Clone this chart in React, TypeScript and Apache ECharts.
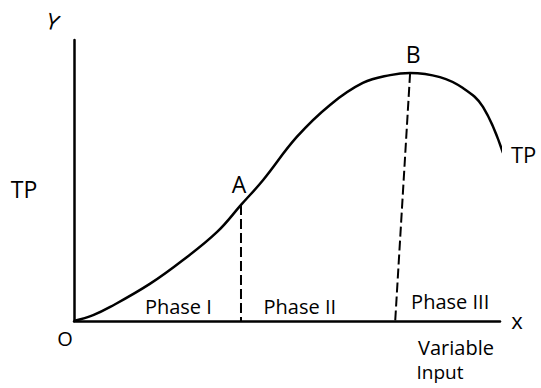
import React, { useEffect, useRef } from "react";
import * as echarts from "echarts";

// Variable input (x) and total product (y), scale 0–100
const inputX = [0, 4.5, 8.5, 17.8, 25.6, 33.6, 39.2, 44.4, 52.3, 60.1, 67.8, 74.2, 78.9, 85.9, 91.3, 96.0, 100.7];
const tpY = [0, 2.1, 5.0, 13.2, 21.7, 31.7, 41.3, 50.2, 65.5, 76.9, 84.7, 87.5, 88.3, 86.8, 82.9, 76.2, 59.8];

// Boundary points between phases
const pointA = [39.2, 41.3];
const pointB = [78.9, 88.3];
const pointBFoot = [75.4, 0];

const phaseLabels = ["Phase I", "Phase II", "Phase III"];
const phaseCenters = [24.5, 53.0, 88.3];

export default function App() {
  const ref = useRef<HTMLDivElement>(null);
  useEffect(() => {
    if (!ref.current) return;
    const chart = echarts.init(ref.current, null, { renderer: "svg" });
    const font = "'Open Sans', 'Liberation Sans', sans-serif";
    const gridLeft = 74, gridTop = 40, gridW = 426, gridH = 281;
    const px = (x: number) => gridLeft + (x / 100) * gridW;
    const py = (y: number) => gridTop + gridH - (y / 100) * gridH;
    chart.setOption({
      animation: false,
      backgroundColor: "#ffffff",
      grid: { left: gridLeft, top: gridTop, width: gridW, height: gridH },
      xAxis: {
        type: "value", min: 0, max: 100,
        axisLine: { show: true, lineStyle: { color: "#000", width: 2.5 } },
        axisTick: { show: false }, axisLabel: { show: false }, splitLine: { show: false },
      },
      yAxis: {
        type: "value", min: 0, max: 100,
        axisLine: { show: true, lineStyle: { color: "#000", width: 2.5 } },
        axisTick: { show: false }, axisLabel: { show: false }, splitLine: { show: false },
      },
      series: [
        {
          type: "line",
          data: inputX.map((x, i) => [x, tpY[i]]),
          smooth: 0.4,
          symbol: "none",
          clip: false,
          lineStyle: { color: "#000", width: 2.5 },
        },
        {
          type: "line",
          data: [pointA, [pointA[0], 0]],
          symbol: "none",
          lineStyle: { color: "#000", width: 2, type: [10, 4] },
        },
        {
          type: "line",
          data: [pointB, pointBFoot],
          symbol: "none",
          lineStyle: { color: "#000", width: 2, type: [10, 4] },
        },
      ],
      graphic: [
        { type: "text", x: 53, y: 21, rotation: -0.3, style: { text: "Y", font: `22px ${font}`, fill: "#000", textAlign: "center", textVerticalAlign: "middle" } },
        { type: "text", x: 24, y: 189, style: { text: "TP", font: `23px ${font}`, fill: "#000", textAlign: "center", textVerticalAlign: "middle" } },
        { type: "text", x: px(pointA[0]) - 2, y: 184, style: { text: "A", font: `23px ${font}`, fill: "#000", textAlign: "center", textVerticalAlign: "middle" } },
        { type: "text", x: px(pointB[0]) + 3, y: 54, style: { text: "B", font: `23px ${font}`, fill: "#000", textAlign: "center", textVerticalAlign: "middle" } },
        { type: "text", x: 511, y: py(tpY[tpY.length - 1]) + 1, style: { text: "TP", font: `22px ${font}`, fill: "#000", textAlign: "left", textVerticalAlign: "middle" } },
        { type: "text", x: 65, y: 338, style: { text: "O", font: `20px ${font}`, fill: "#000", textAlign: "center", textVerticalAlign: "middle" } },
        { type: "text", x: 517, y: 320, style: { text: "x", font: `22px ${font}`, fill: "#000", textAlign: "center", textVerticalAlign: "middle" } },
        { type: "text", x: 456, y: 347, style: { text: "Variable", font: `20px ${font}`, fill: "#000", textAlign: "center", textVerticalAlign: "middle" } },
        { type: "text", x: 440, y: 372, style: { text: "Input", font: `19px ${font}`, fill: "#000", textAlign: "center", textVerticalAlign: "middle" } },
        ...phaseLabels.map((t, i) => ({
          type: "text",
          x: px(phaseCenters[i]),
          y: i === 2 ? 301 : 306,
          style: { text: t, font: `20px ${font}`, fill: "#000", textAlign: "center", textVerticalAlign: "middle" },
        })),
      ],
    });
    return () => chart.dispose();
  }, []);
  return <div ref={ref} style={{ position: "fixed", left: 0, top: 0, width: 541, height: 388 }} />;
}
